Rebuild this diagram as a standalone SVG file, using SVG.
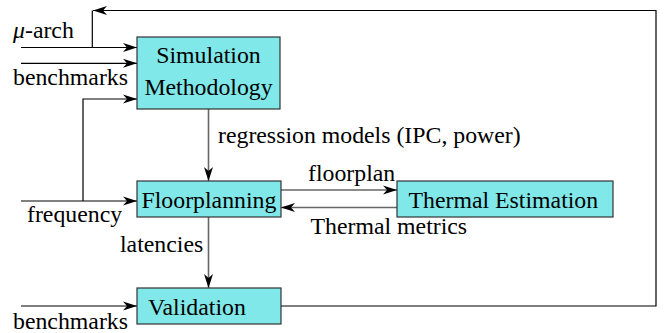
<svg xmlns="http://www.w3.org/2000/svg" width="664" height="333" viewBox="0 0 664 333" font-family="'Liberation Serif', 'Times New Roman', Times, 'DejaVu Serif', serif">
  <style>
    .box { fill: #80e8e8; stroke: #333; stroke-width: 1.2; }
    .t { font-size: 23.8px; fill: #000; }
    .in { fill: none; stroke: #000; stroke-width: 1.2; }
    .flow { fill: none; stroke: #666; stroke-width: 1.6; }
  </style>
  <defs>
    <marker id="ah" markerUnits="userSpaceOnUse" markerWidth="16" markerHeight="12" refX="14" refY="5" orient="auto" overflow="visible">
      <path d="M14,5 L0,0.5 L4,5 L0,9.5 Z" fill="#000"/>
    </marker>
  </defs>

  <rect width="664" height="333" fill="#fff"/>

  <!-- connectors -->
  <g id="connectors">
    <!-- external inputs -->
    <line class="in" x1="21" y1="47.5" x2="137" y2="47.5" marker-end="url(#ah)"/>
    <line class="in" x1="21" y1="63.3" x2="137" y2="63.3" marker-end="url(#ah)"/>
    <line class="in" x1="21" y1="201" x2="137" y2="201" marker-end="url(#ah)"/>
    <line class="in" x1="21" y1="306" x2="137" y2="306" marker-end="url(#ah)"/>
    <!-- frequency also feeds the simulation step -->
    <polyline class="in" points="83,201 83,99 137,99" marker-end="url(#ah)"/>
    <!-- validation feedback loop -->
    <polyline class="in" points="281,306 656,306 656,10.5 93,10.5" marker-end="url(#ah)"/>
    <line class="in" x1="92.3" y1="10.5" x2="92.3" y2="47.5"/>
    <!-- main flow -->
    <line class="flow" x1="208.5" y1="109" x2="208.5" y2="181" marker-end="url(#ah)"/>
    <line class="flow" x1="208.5" y1="217" x2="208.5" y2="288" marker-end="url(#ah)"/>
    <line class="flow" x1="281" y1="190" x2="397" y2="190" marker-end="url(#ah)"/>
    <line class="flow" x1="397" y1="207.5" x2="281" y2="207.5" marker-end="url(#ah)"/>
  </g>

  <!-- connector labels -->
  <g id="labels">
    <text class="t" x="13" y="38"><tspan font-style="italic">μ</tspan>-arch</text>
    <text class="t" x="13" y="85">benchmarks</text>
    <text class="t" x="27" y="222" font-size="23">frequency</text>
    <text class="t" x="13" y="329">benchmarks</text>
    <text class="t" x="218" y="143">regression models (IPC, power)</text>
    <text class="t" x="308" y="180.5">floorplan</text>
    <text class="t" x="310.5" y="233.5">Thermal metrics</text>
    <text class="t" x="120" y="252">latencies</text>
  </g>

  <!-- nodes -->
  <g id="simulation">
    <rect class="box" x="137" y="37" width="143" height="72"/>
    <text class="t" x="208.5" y="63" text-anchor="middle">Simulation</text>
    <text class="t" x="208.5" y="95" text-anchor="middle">Methodology</text>
  </g>
  <g id="floorplanning">
    <rect class="box" x="137" y="181" width="144" height="36"/>
    <text class="t" x="141.5" y="207.5">Floorplanning</text>
  </g>
  <g id="thermal">
    <rect class="box" x="397" y="181" width="216" height="36"/>
    <text class="t" x="408.5" y="207.5">Thermal Estimation</text>
  </g>
  <g id="validation">
    <rect class="box" x="137" y="288" width="144" height="36"/>
    <text class="t" x="148" y="315" font-size="23">Validation</text>
  </g>
</svg>
